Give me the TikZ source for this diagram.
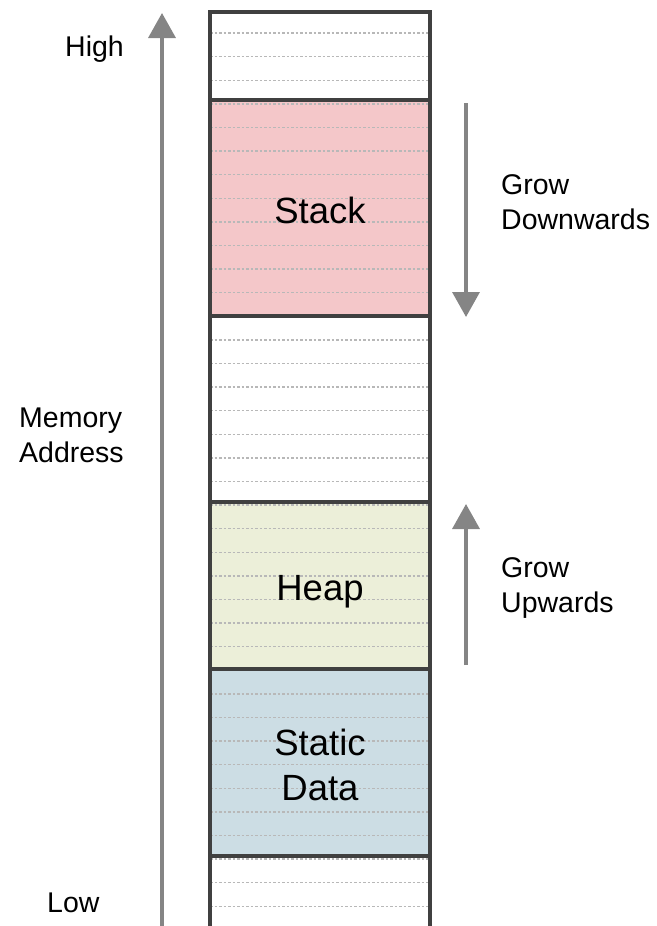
\documentclass[tikz,border=0pt]{standalone}
\usepackage{fontspec}
\setmainfont{Liberation Sans}
\usetikzlibrary{arrows.meta}
\definecolor{stackfill}{HTML}{F4C7C9}
\definecolor{heapfill}{HTML}{ECEFD9}
\definecolor{staticfill}{HTML}{CCDDE4}
\definecolor{wallgray}{HTML}{404040}
\definecolor{rulegray}{HTML}{B8B8B8}
\definecolor{arrowgray}{HTML}{858585}

\begin{document}
\begin{tikzpicture}[
  x=1pt, y=-1pt,
  wall/.style={draw=wallgray,line width=3.5pt},
  rule/.style={draw=rulegray,line width=1.4pt,dash pattern=on 2.5pt off 2pt},
  growarrow/.style={draw=arrowgray,line width=3.5pt,-{Triangle[length=25pt,width=27pt]}},
  segtext/.style={font=\fontsize{36.5}{45}\selectfont,align=center,inner sep=0pt,anchor=base},
  sidetext/.style={font=\fontsize{28.5}{35}\selectfont,align=left,inner sep=0pt,anchor=base west},
  ]
  \useasboundingbox (0,0) rectangle (656,926);
  \fill[stackfill] (210,100) rectangle (430,316);
  \fill[heapfill] (210,502) rectangle (430,669);
  \fill[staticfill] (210,669) rectangle (430,856);
  \foreach \k in {0,...,37}
    \path[rule] (210,{33+23.6*\k}) -- (430,{33+23.6*\k});
  \draw[wall] (210,926) -- (210,12) -- (430,12) -- (430,926);
  \foreach \y in {100,316,502,669,856}
    \draw[wall] (210,\y) -- (430,\y);

  \node[segtext] (stack) at (320,223) {Stack};
  \node[segtext] (heap) at (320,600) {Heap};
  \node[segtext] (static) at (320,800) {Static\\Data};
  \node[sidetext] (high) at (65,56) {High};
  \node[sidetext] (addr) at (19,462) {Memory\\Address};
  \node[sidetext] (low) at (47,912) {Low};
  \node[sidetext] (down) at (501,229) {Grow\\Downwards};
  \node[sidetext] (up) at (501,612) {Grow\\Upwards};

  \coordinate (addrlow) at (162,926);
  \coordinate (addrhigh) at (162,13);
  \coordinate (stackstart) at (466,103);
  \coordinate (stackend) at (466,317);
  \coordinate (heapstart) at (466,665);
  \coordinate (heapend) at (466,504);
  \draw[growarrow] (addrlow) -- (addrhigh);
  \draw[growarrow] (stackstart) -- (stackend);
  \draw[growarrow] (heapstart) -- (heapend);
\end{tikzpicture}
\end{document}
